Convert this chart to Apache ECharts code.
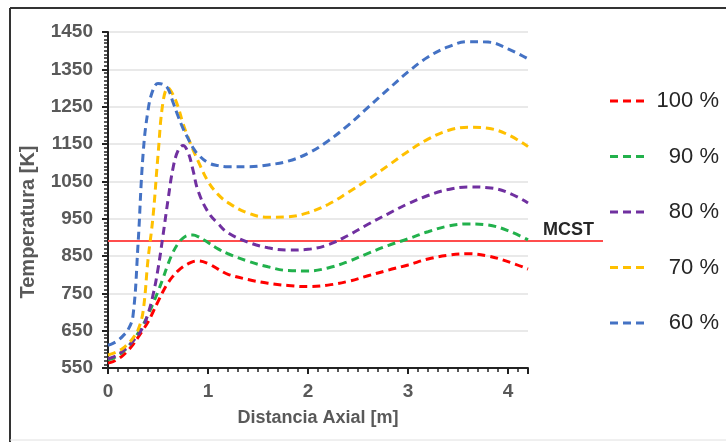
<!DOCTYPE html>
<html>
<head>
<meta charset="utf-8">
<script src="https://cdn.jsdelivr.net/npm/echarts@6/dist/echarts.min.js"></script>
<style>html,body{margin:0;padding:0;background:#fff;}#c{width:726px;height:442px;}</style>
</head>
<body>
<div id="c"></div>
<script>
// Axial distance [m]
const xValues = [0,0.05,0.1,0.15,0.2,0.25,0.3,0.35,0.4,0.45,0.5,0.55,0.6,0.65,0.7,0.75,0.8,0.85,0.9,1.0,1.1,1.2,1.4,1.6,1.8,2.0,2.2,2.4,2.6,2.8,3.0,3.2,3.4,3.6,3.8,4.0,4.2];
// Temperature [K] per load
const t100 = [563,567,574,584,597,613,632,652,673,700,728,755,778,796,810,821,829,835,837,830,815,801,787,777,771,768,772,782,797,812,826,842,852,856,850,835,815];
const t90  = [572,576,584,594,607,623,643,665,692,722,755,790,828,860,883,898,905,906,902,886,869,856,836,821,811,810,818,835,857,878,896,915,930,936,933,918,893];
const t80  = [575,579,586,596,608,622,638,660,695,745,815,905,1000,1085,1132,1146,1128,1080,1025,968,937,912,887,872,866,868,880,905,935,963,990,1012,1028,1035,1033,1020,992];
const t70  = [585,589,595,603,615,630,652,700,840,955,1120,1262,1300,1282,1250,1205,1168,1135,1105,1050,1015,993,965,954,955,966,988,1020,1055,1092,1130,1163,1186,1195,1192,1175,1143];
const t60  = [611,616,624,636,652,690,880,1120,1240,1295,1312,1310,1298,1262,1225,1192,1165,1140,1122,1100,1092,1089,1089,1094,1104,1125,1158,1200,1248,1296,1343,1383,1410,1424,1423,1405,1378];
const seriesNames = ['100 %','90 %','80 %','70 %','60 %'];
const seriesColors = ['#ff0000','#22b14c','#7030a0','#ffc000','#4472c4'];
const mcstValue = 890;
const mcstLabel = 'MCST';
const mcstX = [0, 4.95];
const xTicks = [0,1,2,3,4];
const yTicks = [550,650,750,850,950,1050,1150,1250,1350,1450];

const FONT = "'Liberation Sans', Arial, sans-serif";
const allT = [t100,t90,t80,t70,t60];
const dashIcon = 'path://M0,0h8v3h-8z M13,0h8v3h-8z M26,0h8v3h-8z';

const chart = echarts.init(document.getElementById('c'), null, {renderer:'canvas'});
const series = allT.map((arr,i)=>({
  name: seriesNames[i],
  type: 'line',
  data: xValues.map((x,j)=>[x,arr[j]]),
  smooth: 0.4,
  symbol: 'none',
  lineStyle: {color: seriesColors[i], width: 3, type: [8,5]},
  itemStyle: {color: seriesColors[i]},
  z: 3
}));

const borders = [
  {type: 'line', shape: {x1: 10, y1: 8, x2: 726, y2: 8}, style: {stroke: '#333', lineWidth: 2}, silent: true},
  {type: 'line', shape: {x1: 10, y1: 8, x2: 10, y2: 442}, style: {stroke: '#333', lineWidth: 2}, silent: true},
  {type: 'line', shape: {x1: 10, y1: 440, x2: 726, y2: 440}, style: {stroke: '#e0e0e0', lineWidth: 1}, silent: true}
];

chart.setOption({
  animation: false,
  grid: {left: 108, right: 198, top: 32, bottom: 74, containLabel: false},
  legend: {
    orient: 'vertical', left: 610, top: 90, padding: 0,
    itemWidth: 34, itemHeight: 3, itemGap: 33.5,
    data: seriesNames.map((n,i)=>({name: n, icon: dashIcon, itemStyle: {color: seriesColors[i]}})),
    formatter: n => '{r|' + n + '}',
    textStyle: {fontFamily: FONT, fontSize: 22, color: '#262626',
      rich: {r: {width: 70, align: 'right', fontSize: 22, lineHeight: 22, fontFamily: FONT, color: '#262626'}}}
  },
  xAxis: {
    type: 'value', min: 0, max: 4.2, interval: 1,
    name: 'Distancia Axial [m]', nameLocation: 'middle', nameGap: 41,
    nameTextStyle: {fontFamily: FONT, fontSize: 18, fontWeight: 'bold', color: '#595959'},
    axisLine: {show: true, lineStyle: {color: '#222', width: 2}},
    axisTick: {show: true, length: 6, lineStyle: {color: '#222', width: 2}},
    minorTick: {show: true, splitNumber: 10, length: 4, lineStyle: {color: '#222', width: 1.5}},
    axisLabel: {fontFamily: FONT, fontSize: 19, fontWeight: 'bold', color: '#595959', margin: 14, showMaxLabel: false,
      formatter: v => xTicks.includes(v) ? String(v) : ''},
    splitLine: {show: false}
  },
  yAxis: {
    type: 'value', min: 550, max: 1450, interval: 100,
    name: 'Temperatura [K]', nameLocation: 'middle', nameGap: 70,
    nameTextStyle: {fontFamily: FONT, fontSize: 20, fontWeight: 'bold', color: '#595959', padding: [0, 44, 0, 0]},
    axisLine: {show: true, lineStyle: {color: '#222', width: 2}},
    axisTick: {show: true, length: 6, lineStyle: {color: '#222', width: 2}},
    minorTick: {show: true, splitNumber: 10, length: 4, lineStyle: {color: '#222', width: 1.5}},
    axisLabel: {fontFamily: FONT, fontSize: 19, fontWeight: 'bold', color: '#595959', margin: 15,
      formatter: v => yTicks.includes(v) ? String(v) : ''},
    splitLine: {show: true, lineStyle: {color: '#e9e9e9', width: 2}}
  },
  graphic: borders,
  series: series
});

// MCST reference line, positioned through the chart's own scales
const p0 = chart.convertToPixel({gridIndex: 0}, [mcstX[0], mcstValue]);
const p1 = chart.convertToPixel({gridIndex: 0}, [mcstX[1], mcstValue]);
chart.setOption({
  graphic: borders.concat([
    {type: 'line', shape: {x1: p0[0], y1: p0[1], x2: p1[0], y2: p1[1]}, style: {stroke: '#ff4d4d', lineWidth: 2}, z: 2, silent: true},
    {type: 'text', x: p1[0] - 9, y: p1[1] - 2, style: {text: mcstLabel, fill: '#262626', font: "bold 18px 'Liberation Sans', Arial, sans-serif", align: 'right', verticalAlign: 'bottom'}, z: 5, silent: true}
  ])
});
</script>
</body>
</html>
